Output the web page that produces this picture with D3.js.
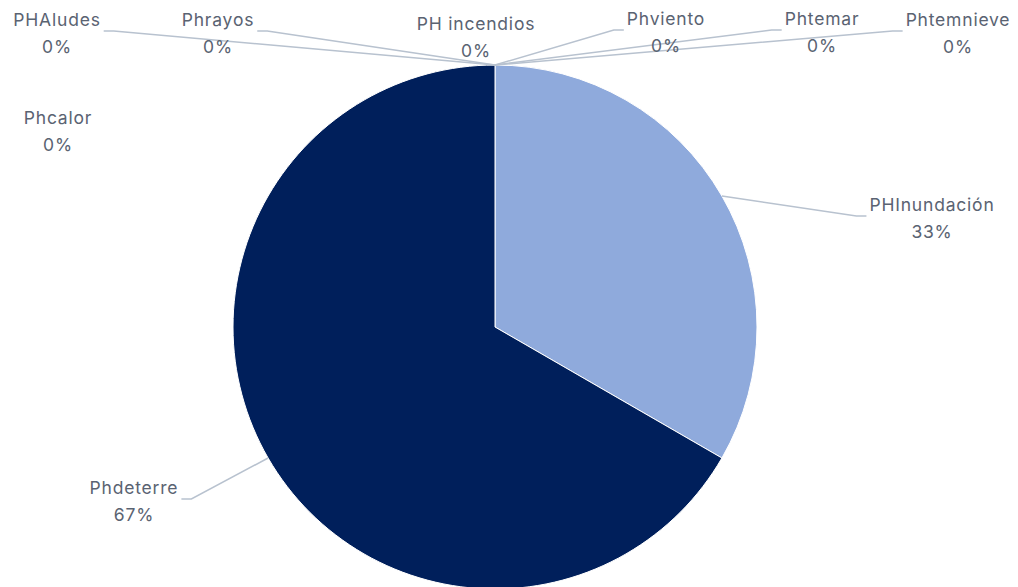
<!DOCTYPE html>
<html><head><meta charset="utf-8">
<script src="https://cdn.jsdelivr.net/npm/d3@7"></script>
<style>body{margin:0;background:#fff}svg{display:block}</style>
</head><body>
<svg id="c" width="1018" height="587"></svg>
<script>
// Data
const categories = ["PHInundación","Phdeterre","Phcalor","PHAludes","Phrayos","PH incendios","Phviento","Phtemar","Phtemnieve"];
const values = [1, 2, 0, 0, 0, 0, 0, 0, 0];
const colors = ["#8FAADC","#001F5B","#A5A5A5","#4472C4","#ED7D31","#FFC000","#5B9BD5","#70AD47","#264478"];

// Label layout (label center x, name baseline y, leader side)
const labelLayout = {
  "PHInundación": {x: 932, y: 211, side: "left"},
  "Phdeterre":    {x: 134, y: 494, side: "right"},
  "Phcalor":      {x: 58,  y: 124, side: null},
  "PHAludes":     {x: 57,  y: 26,  side: "right"},
  "Phrayos":      {x: 218, y: 26,  side: "right"},
  "PH incendios": {x: 476, y: 30,  side: null},
  "Phviento":     {x: 666, y: 25,  side: "left"},
  "Phtemar":      {x: 822, y: 25,  side: "left"},
  "Phtemnieve":   {x: 958, y: 26,  side: "left"}
};

const svg = d3.select("#c");
const cx = 495, cy = 327, R = 262;
const g = svg.append("g").attr("transform", `translate(${cx},${cy})`);

const data = categories.map((c, i) => ({name: c, value: values[i], color: colors[i]}));
const total = d3.sum(values);
const pie = d3.pie().sort(null).value(d => d.value).startAngle(0).endAngle(2 * Math.PI);
const arcs = pie(data);
const arc = d3.arc().innerRadius(0).outerRadius(R);
const fmt = d3.format(".0%");

g.selectAll("path.slice").data(arcs.filter(a => a.data.value > 0)).join("path")
  .attr("class", "slice")
  .attr("d", arc)
  .attr("fill", d => d.data.color)
  .attr("stroke", "#ffffff").attr("stroke-width", 1);

const labels = svg.append("g");
arcs.forEach(a => {
  const L = labelLayout[a.data.name];
  const t = labels.append("text")
    .attr("text-anchor", "middle")
    .attr("font-family", "Inter, 'Noto Sans', sans-serif")
    .attr("font-size", 17.5)
    .attr("letter-spacing", 0.8)
    .attr("fill", "#5A6372");
  t.append("tspan").attr("x", L.x).attr("y", L.y).text(a.data.name);
  t.append("tspan").attr("x", L.x).attr("y", L.y + 27).text(fmt(a.data.value / total));
  if (L.side) {
    const bb = t.node().getBBox();
    const mid = (a.startAngle + a.endAngle) / 2;
    const px = cx + R * Math.sin(mid), py = cy - R * Math.cos(mid);
    const ly = L.y + 5;
    const ex = L.side === "left" ? bb.x - 3 : bb.x + bb.width + 3;
    const ox = L.side === "left" ? ex - 10 : ex + 10;
    const pts = [[px, py], [ox, ly], [ex, ly]];
    labels.insert("path", "text")
      .attr("d", d3.line()(pts))
      .attr("fill", "none")
      .attr("stroke", "#B8C2CF")
      .attr("stroke-width", 1.5);
  }
});
</script>
</body></html>
